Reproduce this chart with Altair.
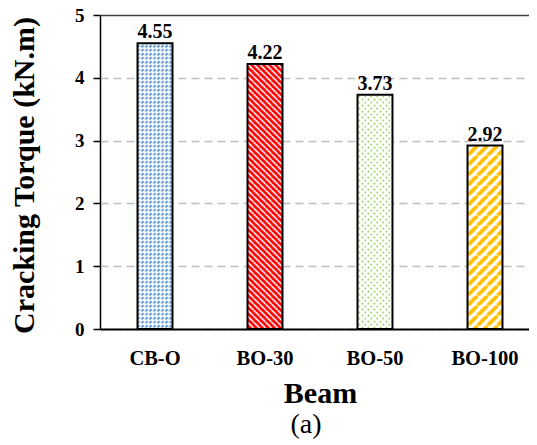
import altair as alt
import pandas as pd
from urllib.parse import quote

# ---- data ----
beams = ["CB-O", "BO-30", "BO-50", "BO-100"]
torque = [4.55, 4.22, 3.73, 2.92]
y_ticks = [0, 1, 2, 3, 4, 5]
caption = ["(a)"]

df = pd.DataFrame({"Beam": beams, "Torque": torque})
cap_df = pd.DataFrame({"caption": caption})

FONT = "Liberation Serif"


def svg_uri(tw, th, body):
    svg = ("<svg xmlns='http://www.w3.org/2000/svg' width='100%' height='100%'>"
           f"<defs><pattern id='p' width='{tw}' height='{th}' patternUnits='userSpaceOnUse'>"
           f"{body}</pattern></defs>"
           "<rect width='100%' height='100%' fill='url(#p)'/></svg>")
    return "data:image/svg+xml;charset=utf-8," + quote(svg)


blue_lines = " ".join(f"M{c-8},8 L{c},0" for c in range(0, 17, 4))
red_lines = " ".join(f"M{c},0 L{c+6},6" for c in (-6, 0, 6))
yel_lines = " ".join(f"M{c-10},10 L{c},0" for c in (0, 10, 20))

patterns = {
    "CB-O": svg_uri(8, 8, "<rect width='8' height='8' fill='white'/>"
                    f"<path d='{blue_lines}' stroke='#4F8FD0' stroke-width='2' "
                    "stroke-dasharray='2.83 2.83'/>"),
    "BO-30": svg_uri(6, 6, "<rect width='6' height='6' fill='#FF0000'/>"
                     f"<path d='{red_lines}' stroke='white' stroke-width='1.6'/>"),
    "BO-50": svg_uri(6, 6, "<rect width='6' height='6' fill='white'/>"
                     "<rect x='1' y='1' width='1.7' height='1.7' fill='#92D050'/>"
                     "<rect x='4' y='4' width='1.7' height='1.7' fill='#92D050'/>"),
    "BO-100": svg_uri(10, 10, "<rect width='10' height='10' fill='white'/>"
                      f"<path d='{yel_lines}' stroke='#FFC000' stroke-width='3.8'/>"),
}

x_enc = alt.X(
    "Beam:N",
    sort=beams,
    scale=alt.Scale(domain=beams, paddingInner=0.682, paddingOuter=0.341, range=[0, 440]),
    axis=alt.Axis(
        title="Beam", labelAngle=0, ticks=False, labelPadding=19,
        labelFont=FONT, labelFontSize=20.5, labelFontWeight="bold", labelColor="black",
        domainColor="black", domainWidth=2, grid=False,
        titleFont=FONT, titleFontSize=30, titleFontWeight="bold", titleColor="black",
        titleBaseline="alphabetic", titleY=73,
    ),
)

y_enc = alt.Y(
    "Torque:Q",
    scale=alt.Scale(domain=[0, 5], nice=False),
    axis=alt.Axis(
        values=y_ticks, format="d", title="Cracking Torque (kN.m)",
        titleFont=FONT, titleFontSize=30, titleFontWeight="bold", titleColor="black",
        titleAngle=270, titleX=-76, titleY=160, titleAlign="center", titleBaseline="middle",
        labelFont=FONT, labelFontSize=19, labelFontWeight="bold", labelColor="black",
        labelPadding=9, tickSize=7, tickColor="black", tickWidth=1.5,
        domainColor="black", domainWidth=1.5,
        grid=True, gridWidth=1.5,
        gridColor={"condition": {"test": "datum.value === 5", "value": "#404040"}, "value": "#bfbfbf"},
        gridDash={"condition": {"test": "datum.value === 5", "value": [1, 0]}, "value": [8, 5]},
    ),
)

base = alt.Chart(df)

img_layers = [
    base.transform_filter(alt.datum.Beam == b)
    .mark_image(aspect=False)
    .encode(x=x_enc, y=y_enc, y2=alt.datum(0), url=alt.value(patterns[b]))
    for b in beams
]

outline = base.mark_bar(fill="transparent", stroke="black", strokeWidth=2).encode(x=x_enc, y=y_enc)

labels = base.mark_text(
    dy=-5, baseline="alphabetic", font=FONT, fontSize=20, fontWeight="bold", color="black"
).encode(x=x_enc, y=y_enc, text=alt.Text("Torque:Q", format=".2f"))

cap = alt.Chart(cap_df).mark_text(
    font=FONT, fontSize=28, color="black", baseline="alphabetic", align="center"
).encode(text="caption:N", x=alt.value(206), y=alt.value(418))

chart = alt.layer(*img_layers, outline, labels, cap).properties(
    width=429,
    height=314,
    autosize=alt.AutoSizeParams(type="none"),
    padding={"left": 92, "top": 7, "right": 0, "bottom": 110},
).configure_view(stroke=None)

chart.save("out.html", embed_options={"renderer": "svg", "actions": False})
